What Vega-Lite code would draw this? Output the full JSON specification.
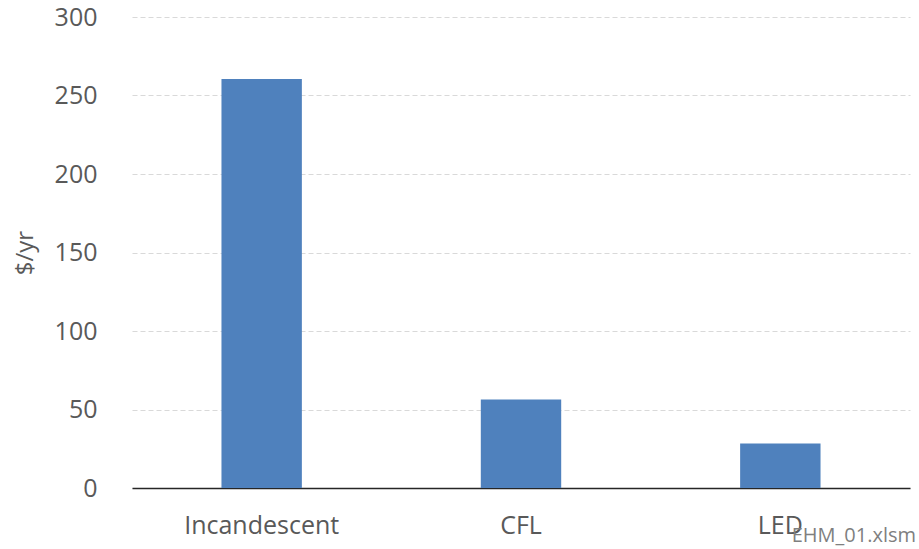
{
  "$schema": "https://vega.github.io/schema/vega-lite/v6.json",
  "autosize": "none",
  "width": 778,
  "height": 471,
  "padding": {"left": 132, "top": 17, "right": 9, "bottom": 61},
  "background": "white",
  "title": {
    "text": "EHM_01.xlsm",
    "orient": "bottom",
    "anchor": "end",
    "frame": "group",
    "font": "Open Sans",
    "fontSize": 20,
    "fontWeight": "normal",
    "color": "#7f7f7f",
    "offset": -12,
    "dx": 6
  },
  "data": {
    "values": [
      {"lamp": "Incandescent", "cost": 260.5},
      {"lamp": "CFL", "cost": 56.4},
      {"lamp": "LED", "cost": 28.4}
    ]
  },
  "mark": {"type": "bar", "color": "#4f81bd"},
  "encoding": {
    "x": {
      "field": "lamp",
      "type": "nominal",
      "sort": null,
      "scale": {"paddingInner": 0.69, "paddingOuter": 0.345},
      "axis": {
        "title": null,
        "labelAngle": 0,
        "labelFont": "Open Sans",
        "labelFontSize": 25,
        "labelColor": "#595959",
        "labelPadding": 25,
        "ticks": false,
        "domainColor": "#262626",
        "domainWidth": 1.5,
        "grid": false
      }
    },
    "y": {
      "field": "cost",
      "type": "quantitative",
      "scale": {"domain": [0, 300], "nice": false},
      "axis": {
        "title": "$/yr",
        "titleFont": "Open Sans",
        "titleFontSize": 24,
        "titleFontWeight": "normal",
        "titleColor": "#595959",
        "titlePadding": 17,
        "values": [0, 50, 100, 150, 200, 250, 300],
        "labelFont": "Open Sans",
        "labelFontSize": 25,
        "labelColor": "#595959",
        "labelPadding": 35,
        "ticks": false,
        "domain": false,
        "grid": true,
        "gridColor": "#d9d9d9",
        "gridDash": [5, 3],
        "gridWidth": 1
      }
    }
  },
  "config": {"view": {"stroke": null}}
}
